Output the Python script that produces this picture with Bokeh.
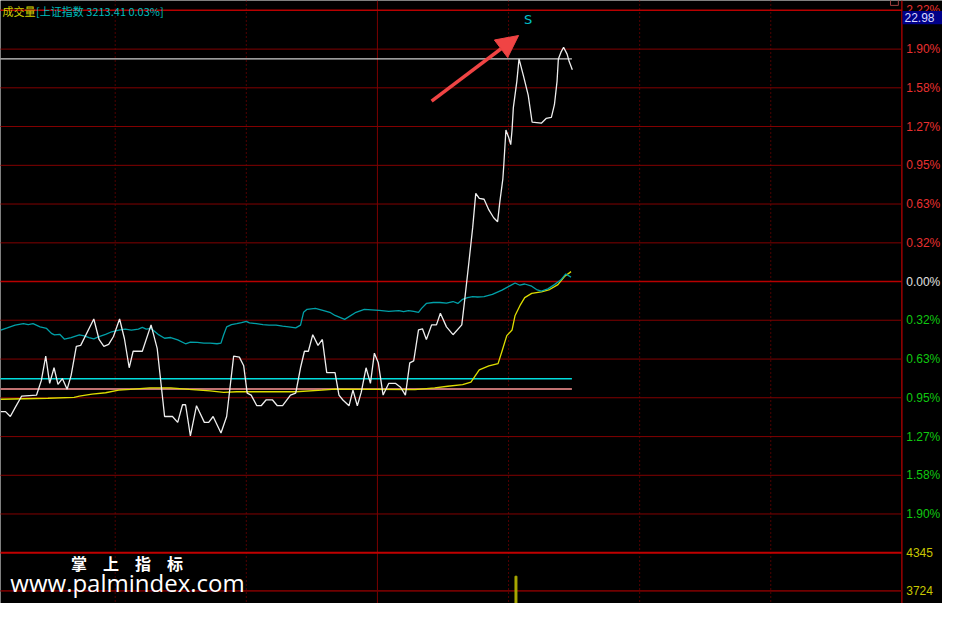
from bokeh.plotting import figure
from bokeh.models import Range1d, Span, Arrow, NormalHead, ColumnDataSource
from bokeh.core.properties import value
from bokeh.embed import file_html
from bokeh.resources import INLINE

# ---- time axis: minutes since 09:30 (0..240); price axis: % change ----
price_min = [33.8, 34.9, 36.0, 37.1, 38.6, 42.0, 43.1, 44.1, 45.0, 46.0,
             46.9, 47.9, 49.0, 49.9, 51.1, 52.1, 55.1, 56.3, 57.4, 58.5,
             59.6, 61.0, 62.1, 63.2, 64.1, 66.2, 68.2, 69.6, 71.3, 73.1,
             74.3, 75.4, 76.1, 77.2, 78.6, 80.4, 81.4, 82.4, 84.2, 85.5,
             87.1, 88.4, 89.4, 90.2, 91.1, 92.4, 93.4, 94.5, 96.0, 97.1,
             98.3, 100.1, 101.3, 102.4, 103.3, 104.2, 105.2, 106.4, 107.4, 108.4,
             110.3, 111.2, 112.1, 113.5, 114.4, 115.4, 116.3, 117.4, 118.4, 119.3,
             120.2, 121.3, 122.6, 124.1, 125.3, 126.4, 127.4, 128.3, 129.4, 130.3,
             131.2, 132.4, 133.5, 134.4, 135.8, 137.3, 139.3, 139.9, 140.9, 141.8,
             142.5, 143.3, 144.4, 145.5, 146.6, 147.5, 148.0, 148.7, 148.9, 149.4,
             150.0, 150.5, 150.8, 151.1, 151.9, 152.4, 153.4, 154.5, 155.4, 157.5,
             158.6, 159.8, 160.5, 161.1, 161.4, 162.0, 162.6, 163.4, 163.9, 164.6]
price_pct = [-1.062, -1.062, -1.102, -1.030, -0.935, -0.927, -0.807, -0.609, -0.831, -0.704,
             -0.839, -0.792, -0.879, -0.768, -0.529, -0.521, -0.306, -0.473, -0.529, -0.513,
             -0.449, -0.306, -0.465, -0.704, -0.569, -0.569, -0.354, -0.545, -1.102, -1.102,
             -1.150, -1.006, -1.006, -1.261, -1.014, -1.150, -1.150, -1.102, -1.237, -1.102,
             -0.609, -0.617, -0.688, -0.911, -0.927, -1.014, -1.014, -0.967, -0.967, -1.014,
             -1.014, -0.927, -0.911, -0.704, -0.569, -0.569, -0.434, -0.521, -0.473, -0.744,
             -0.744, -0.927, -0.967, -1.014, -0.887, -1.014, -0.903, -0.704, -0.831, -0.585,
             -0.664, -0.927, -0.831, -0.831, -0.863, -0.927, -0.664, -0.648, -0.394, -0.386,
             -0.473, -0.354, -0.354, -0.259, -0.370, -0.434, -0.354, -0.171, 0.147, 0.442,
             0.720, 0.680, 0.672, 0.585, 0.521, 0.489, 0.648, 0.839, 0.943, 1.237,
             1.181, 1.118, 1.237, 1.420, 1.635, 1.818, 1.682, 1.523, 1.301, 1.293,
             1.332, 1.340, 1.444, 1.635, 1.818, 1.873, 1.913, 1.857, 1.794, 1.730]

index_min = [33.8, 35.3, 37.1, 39.0, 40.1, 41.2, 42.8, 44.3, 45.4, 46.1,
             47.3, 48.4, 49.9, 51.8, 52.9, 54.0, 55.1, 56.3, 57.8, 59.2,
             60.8, 62.3, 63.7, 65.3, 66.2, 67.1, 68.2, 69.8, 71.3, 72.7,
             74.3, 76.1, 77.2, 78.8, 80.3, 81.7, 83.3, 84.2, 84.8, 85.5,
             86.6, 87.8, 88.9, 90.0, 90.7, 92.3, 93.8, 95.2, 96.8, 98.3,
             99.7, 101.3, 102.4, 103.1, 103.9, 105.8, 107.5, 109.1, 110.3, 112.5,
             115.1, 117.0, 120.4, 122.6, 124.9, 126.0, 127.1, 128.3, 129.4, 130.1,
             131.2, 132.8, 134.3, 135.8, 137.3, 138.4, 139.5, 140.6, 141.8, 142.9,
             144.4, 146.3, 148.5, 150.4, 151.5, 152.6, 153.7, 155.3, 156.4, 157.5,
             159.0, 160.5, 162.0, 163.1, 164.3]
index_pct = [-0.396, -0.378, -0.356, -0.344, -0.352, -0.344, -0.370, -0.383, -0.423, -0.436,
             -0.431, -0.471, -0.457, -0.436, -0.444, -0.457, -0.468, -0.449, -0.431, -0.410,
             -0.396, -0.388, -0.396, -0.388, -0.375, -0.388, -0.383, -0.431, -0.463, -0.457,
             -0.476, -0.508, -0.495, -0.497, -0.503, -0.503, -0.508, -0.503, -0.436, -0.370,
             -0.352, -0.344, -0.336, -0.325, -0.338, -0.344, -0.352, -0.356, -0.356, -0.364,
             -0.370, -0.378, -0.356, -0.251, -0.227, -0.219, -0.235, -0.251, -0.277, -0.309,
             -0.251, -0.227, -0.235, -0.243, -0.237, -0.245, -0.237, -0.243, -0.251, -0.219,
             -0.179, -0.171, -0.171, -0.177, -0.163, -0.179, -0.145, -0.131, -0.123, -0.126,
             -0.123, -0.105, -0.070, -0.033, -0.012, -0.030, -0.020, -0.038, -0.065, -0.078,
             -0.060, -0.025, 0.014, 0.062, 0.036]

avg_min = [33.8, 44.6, 50.6, 51.8, 54.7, 57.8, 60.8, 63.4, 67.9, 72.7,
           76.9, 81.7, 84.8, 87.8, 94.5, 101.3, 107.3, 110.3, 119.3, 128.6,
           133.1, 136.1, 139.5, 141.4, 143.3, 145.5, 147.6, 148.5, 149.6, 150.8,
           151.5, 152.6, 153.7, 155.3, 157.5, 159.4, 161.3, 162.8, 164.3]
avg_pct = [-0.961, -0.953, -0.945, -0.935, -0.919, -0.908, -0.887, -0.881, -0.869, -0.869,
           -0.881, -0.893, -0.905, -0.900, -0.900, -0.900, -0.887, -0.879, -0.881, -0.883,
           -0.869, -0.855, -0.842, -0.821, -0.722, -0.688, -0.670, -0.569, -0.442, -0.396,
           -0.277, -0.197, -0.131, -0.097, -0.084, -0.065, -0.025, 0.041, 0.081]

# reference horizontal levels (drawn up to the current minute)
level_pct = [1.818, -0.794, -0.877]
level_colors = ["#d0d0d0", "#00dede", "#c07272"]
level_widths = [1.2, 1.5, 2.0]
now_min = 164.5

# price grid and right-hand labels
pct_grid = [2.215, 1.898, 1.582, 1.266, 0.949, 0.633, 0.316, 0.0,
            -0.316, -0.633, -0.949, -1.266, -1.582, -1.898, -2.215]
pct_labels = ["2.22%", "1.90%", "1.58%", "1.27%", "0.95%", "0.63%", "0.32%", "0.00%",
              "0.32%", "0.63%", "0.95%", "1.27%", "1.58%", "1.90%"]

# volume panel
vol_grid = [4345, 3724]
vol_labels = ["4345", "3724"]
vol_min = [151.7]
vol_val = [3963]

# vertical time grid (minutes)
dotted_min = [60, 90, 150, 180, 210]
solid_min = [120]
axis_min = 240

header_left = "成交量"
header_right = "[上证指数 3213.41 0.03%]"
tag_value = "22.98"
signal_text = "S"
signal_pos = (154.5, 2.136)
arrow_from = (132.4, 1.473)
arrow_to = (152.3, 2.009)
brand_cn = "掌　上　指　标"
brand_url = "www.palmindex.com"

W, H = 942, 603
p = figure(width=W, height=H, output_backend="svg", toolbar_location=None,
           x_range=Range1d(33.75, 249.3), y_range=Range1d(-2.629, 2.295),
           x_axis_type=None, y_axis_type=None,
           background_fill_color="black", border_fill_color="black",
           outline_line_color=None, min_border=0)
p.min_border_left = p.min_border_right = p.min_border_top = p.min_border_bottom = 0
p.extra_y_ranges = {"vol": Range1d(3517, 13374)}
p.grid.visible = False

# vertical lines
for m in dotted_min:
    p.add_layout(Span(location=m, dimension="height", line_color="#a00000",
                      line_dash="1 3", line_width=1, level="underlay"))
for m in solid_min:
    p.add_layout(Span(location=m, dimension="height", line_color="#7a0000",
                      line_width=1, level="underlay"))
p.add_layout(Span(location=axis_min, dimension="height", line_color="#9a0000",
                  line_width=1.5, level="underlay"))

# horizontal price grid (excluding the lowest, which is the volume separator)
g = pct_grid[:-1]
gsrc = ColumnDataSource(dict(
    x0=[0] * len(g), x1=[axis_min] * len(g), y=g,
    c=["#b80000" if v in (pct_grid[0], 0.0) else "#820000" for v in g],
    w=[1.6 if v in (pct_grid[0], 0.0) else 1.0 for v in g]))
p.segment(x0="x0", x1="x1", y0="y", y1="y", line_color="c", line_width="w", source=gsrc)

vsrc = ColumnDataSource(dict(x0=[0, 0], x1=[axis_min, axis_min], y=vol_grid,
                             c=["#c00000", "#700000"], w=[2.0, 1.6]))
p.segment(x0="x0", x1="x1", y0="y", y1="y", line_color="c", line_width="w",
          source=vsrc, y_range_name="vol")

# volume bar
p.vbar(x=vol_min, width=0.45, top=vol_val, bottom=0, color="#a8a800", y_range_name="vol")

# reference levels
lsrc = ColumnDataSource(dict(x0=[0] * 3, x1=[now_min] * 3, y=level_pct,
                             c=level_colors, w=level_widths))
p.segment(x0="x0", x1="x1", y0="y", y1="y", line_color="c", line_width="w", source=lsrc)

# series
p.line(avg_min, avg_pct, line_color="#dede00", line_width=1.3)
p.line(index_min, index_pct, line_color="#00a0a8", line_width=1.3)
p.line(price_min, price_pct, line_color="#eeeeee", line_width=1.3)

# right-hand labels
lab_y = pct_grid[:-1]
lab_c = ["#e83030" if v > 0 else ("#e0e0e0" if v == 0 else "#10c810") for v in lab_y]
p.text(x=[241.0] * len(lab_y), y=lab_y, text=pct_labels, text_color=lab_c,
       text_font=value("Liberation Sans"), text_font_size="12px",
       text_baseline="middle", text_align="left")
p.text(x=[241.0] * 2, y=vol_grid, text=vol_labels, text_color="#c8c800",
       text_font=value("Liberation Sans"), text_font_size="12px",
       text_baseline="middle", text_align="left", y_range_name="vol")

# current-value tag box
p.quad(left=[240.15], right=[250.0], top=[2.21], bottom=[2.102],
       fill_color="#000088", line_color=None)
p.text(x=[240.6], y=[2.156], text=[tag_value], text_color="#d8d8ff",
       text_font=value("Liberation Sans"), text_font_size="12px",
       text_baseline="middle", text_align="left")
p.quad(left=[237.4], right=[239.2], top=[2.32], bottom=[2.255],
       fill_color=None, line_color="#a04040", line_width=1)

# header (kept fully inside the frame)
p.text(x=[34.2], y=[2.212], text=[header_left], text_color="#d0d000",
       text_font=value("Noto Sans CJK SC"), text_font_size="11px",
       text_baseline="alphabetic", text_align="left")
p.text(x=[41.9], y=[2.212], text=[header_right], text_color="#00bcbc",
       text_font=value("Noto Sans CJK SC"), text_font_size="11px",
       text_baseline="alphabetic", text_align="left")

# signal marker and arrow
p.text(x=[signal_pos[0]], y=[signal_pos[1]], text=[signal_text], text_color="#00c0c8",
       text_font=value("DejaVu Sans"), text_font_size="13px",
       text_baseline="middle", text_align="center")
p.add_layout(Arrow(end=NormalHead(size=22, fill_color="#f04444", line_color="#f04444"),
                   x_start=arrow_from[0], y_start=arrow_from[1],
                   x_end=arrow_to[0], y_end=arrow_to[1],
                   line_color="#f04444", line_width=3.5))

# watermark
p.text(x=[49.9], y=[-2.299], text=[brand_cn], text_color="white",
       text_font=value("Noto Sans CJK SC"), text_font_size="16px", text_font_style="bold",
       text_baseline="middle", text_align="left")
p.text(x=[36.0], y=[-2.454], text=[brand_url], text_color="white",
       text_font=value("Open Sans"), text_font_size="24px",
       text_baseline="middle", text_align="left")

open("out.html", "w").write(file_html(p, INLINE))
